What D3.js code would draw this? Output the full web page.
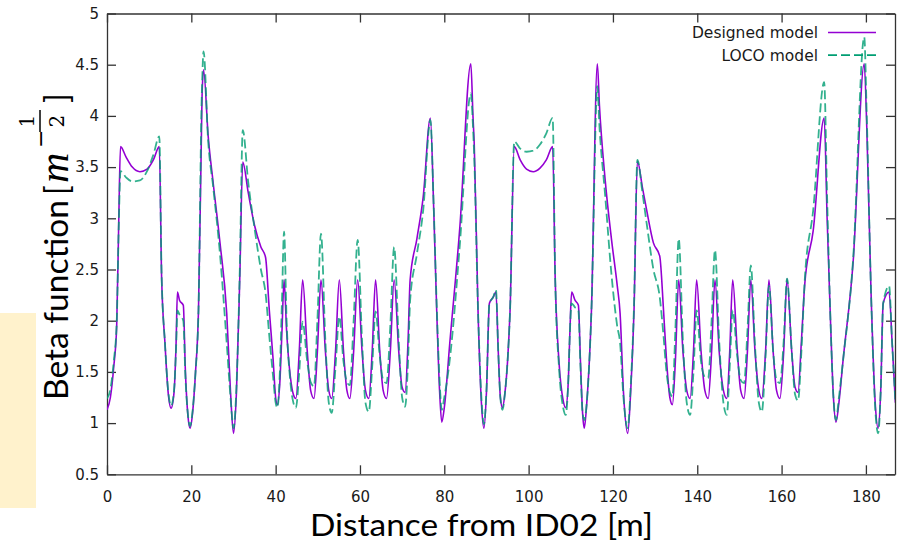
<!DOCTYPE html>
<html>
<head>
<meta charset="utf-8">
<script src="https://cdnjs.cloudflare.com/ajax/libs/d3/7.8.5/d3.min.js"></script>
<style>
body { margin: 0; background: #fff; }
</style>
</head>
<body>
<script>
// distance along the ring [m]
const position = [
  0, 0.8, 1.6, 2.3, 2.8, 3.2, 4.5, 6.0, 7.8, 9.5, 11.0, 12.4, 12.95, 13.75, 14.5, 15.2, 15.9, 16.4, 16.7, 17.2,
  18.1, 18.6, 19.2, 19.7, 20.3, 21.0, 21.7, 22.45, 22.55, 22.9, 24.0, 25.2, 26.8, 28.4, 29.3, 30.0, 30.7, 31.5, 32.2, 33.5,
  35.0, 36.5, 37.6, 38.5, 39.4, 40.0, 40.4, 41.0, 41.5, 42.0, 42.6, 43.5, 44.2, 44.8, 45.6, 46.4, 47.5, 48.3, 49.1, 49.9,
  50.75, 51.8, 52.6, 53.3, 54.2, 55.1, 56.1, 56.9, 57.6, 58.5, 59.45, 60.5, 61.3, 62.1, 62.9, 63.7, 64.7, 65.5, 66.3, 67.2,
  68.1, 69.2, 70.0, 70.7, 71.4, 71.9, 73.5, 75.0, 76.7, 77.5, 78.2, 78.9, 79.4, 80.0, 81.3, 83.7, 86.3, 86.8, 87.1, 88.0,
  88.8, 89.4, 90.0, 90.7, 91.6, 92.25, 92.8, 93.3, 93.8, 94.4, 95.0, 95.6, 96.6, 98.0, 99.5, 101.1, 102.7, 104.2, 105.7, 106.3,
  107.2, 108.2, 108.8, 109.4, 109.8, 110.2, 111.0, 111.8, 112.3, 112.8, 113.2, 113.8, 114.9, 116.3, 116.8, 118.1, 119.7, 121.0, 121.7, 122.5,
  123.5, 124.2, 125.0, 125.8, 127.0, 128.0, 129.6, 131.1, 132.0, 132.7, 133.5, 134.1, 134.8, 135.6, 136.6, 137.5, 138.3, 139.1, 139.85, 140.9,
  141.8, 142.6, 143.4, 144.2, 145.2, 146.2, 147.0, 147.7, 148.4, 149.5, 150.3, 151.1, 151.9, 152.7, 153.7, 154.6, 155.3, 156.2, 157.0, 158.0,
  158.8, 159.6, 160.5, 161.3, 162.4, 163.2, 163.9, 164.7, 165.5, 167.5, 170.1, 170.8, 171.6, 172.3, 172.9, 173.6, 174.6, 177.0, 179.6, 180.2,
  181.2, 182.2, 182.9, 183.5, 184.1, 185.5, 186.2, 187.0
]

const designed = [
  1.13, 1.25, 1.55, 1.95, 3.00, 3.70, 3.60, 3.50, 3.455, 3.48, 3.57, 3.70, 2.43, 1.78, 1.30, 1.145, 1.30, 1.80, 2.28, 2.20,
  2.15, 1.50, 1.07, 0.95, 1.10, 1.50, 2.10, 3.96, 4.20, 4.45, 3.80, 3.34, 2.76, 2.07, 1.30, 0.90, 1.30, 2.43, 3.55, 3.25,
  2.93, 2.72, 2.62, 2.10, 1.62, 1.25, 1.18, 1.40, 1.90, 2.40, 1.90, 1.45, 1.28, 1.24, 1.70, 2.40, 1.70, 1.32, 1.24, 1.70,
  2.40, 1.70, 1.32, 1.24, 1.70, 2.40, 1.70, 1.32, 1.24, 1.70, 2.40, 1.70, 1.32, 1.24, 1.70, 2.40, 1.70, 1.32, 1.24, 1.70,
  2.40, 1.70, 1.35, 1.30, 1.80, 2.40, 2.80, 3.21, 3.98, 3.08, 2.10, 1.30, 1.01, 1.15, 1.78, 2.92, 4.51, 4.00, 3.73, 2.10,
  1.20, 0.95, 1.30, 2.17, 2.23, 2.28, 1.70, 1.25, 1.15, 1.30, 1.60, 2.10, 3.70, 3.57, 3.48, 3.455, 3.49, 3.57, 3.70, 2.42,
  1.60, 1.22, 1.15, 1.40, 1.90, 2.28, 2.20, 2.15, 1.60, 1.10, 0.95, 1.20, 2.10, 4.51, 4.10, 3.40, 2.78, 2.35, 2.07, 1.30,
  0.90, 1.30, 2.10, 3.56, 3.30, 3.08, 2.76, 2.63, 2.10, 1.62, 1.25, 1.18, 1.60, 2.40, 1.70, 1.32, 1.24, 1.70, 2.40, 1.70,
  1.32, 1.24, 1.70, 2.40, 1.70, 1.32, 1.24, 1.70, 2.40, 1.70, 1.32, 1.24, 1.70, 2.40, 1.70, 1.32, 1.24, 1.70, 2.40, 1.70,
  1.32, 1.24, 1.70, 2.41, 1.70, 1.35, 1.30, 1.80, 2.36, 2.88, 3.98, 3.00, 2.00, 1.25, 1.01, 1.20, 1.62, 2.59, 4.51, 3.90,
  2.30, 1.20, 0.95, 1.30, 2.17, 2.28, 1.80, 1.20
]

const loco = [
  1.24, 1.33, 1.60, 1.98, 2.95, 3.46, 3.40, 3.36, 3.37, 3.46, 3.62, 3.80, 2.45, 1.78, 1.32, 1.17, 1.32, 1.75, 2.10, 2.06,
  2.00, 1.45, 1.08, 0.97, 1.12, 1.50, 2.10, 4.15, 4.30, 4.63, 3.75, 3.30, 2.65, 1.78, 1.25, 0.95, 1.35, 2.50, 3.86, 3.35,
  2.90, 2.50, 2.27, 1.85, 1.45, 1.20, 1.15, 1.50, 2.20, 2.87, 2.00, 1.40, 1.20, 1.15, 1.50, 1.99, 1.60, 1.40, 1.36, 2.00,
  2.85, 1.80, 1.20, 1.10, 1.55, 2.04, 1.60, 1.40, 1.37, 2.00, 2.79, 1.80, 1.20, 1.11, 1.55, 2.09, 1.65, 1.42, 1.39, 1.95,
  2.72, 1.80, 1.25, 1.16, 1.60, 2.20, 2.65, 3.08, 3.96, 3.10, 2.15, 1.40, 1.13, 1.25, 1.62, 2.75, 4.22, 3.90, 3.60, 2.10,
  1.25, 0.99, 1.32, 2.17, 2.23, 2.30, 1.70, 1.25, 1.13, 1.30, 1.60, 2.10, 3.75, 3.68, 3.65, 3.66, 3.72, 3.83, 3.98, 2.42,
  1.55, 1.15, 1.08, 1.40, 1.90, 2.17, 2.13, 2.10, 1.55, 1.10, 1.03, 1.20, 2.10, 4.29, 3.90, 3.25, 2.43, 1.95, 1.78, 1.25,
  0.95, 1.35, 2.15, 3.57, 3.25, 2.95, 2.50, 2.23, 1.85, 1.50, 1.30, 1.26, 1.90, 2.80, 1.80, 1.20, 1.08, 1.50, 2.10, 1.60,
  1.45, 1.44, 2.00, 2.69, 1.80, 1.20, 1.08, 1.55, 2.10, 1.65, 1.42, 1.39, 1.90, 2.54, 1.75, 1.20, 1.11, 1.65, 2.34, 1.70,
  1.42, 1.39, 1.80, 2.41, 1.70, 1.28, 1.22, 1.70, 2.40, 3.08, 4.33, 3.20, 2.00, 1.25, 1.03, 1.25, 1.62, 2.62, 4.77, 4.00,
  2.30, 1.15, 0.90, 1.30, 2.17, 2.34, 1.80, 1.20
]

const xTicks = [0, 20, 40, 60, 80, 100, 120, 140, 160, 180]
const yTicks = [0.5, 1, 1.5, 2, 2.5, 3, 3.5, 4, 4.5, 5]
const yTickLabels = ["0.5", "1", "1.5", "2", "2.5", "3", "3.5", "4", "4.5", "5"]
const seriesNames = ["Designed model", "LOCO model"]
const seriesColors = ["#9400d3", "#009e73"]

const w = 899
const h = 542
const plotLeft = 107, plotRight = 895, plotTop = 13.5, plotBottom = 474.3
const tickFont = "'DejaVu Sans', sans-serif"
const bigFont = "Lato, 'Open Sans', sans-serif"

const svg = d3.select("body")
  .append("svg")
  .attr("width", w)
  .attr("height", h)
  .style("display", "block")
  .style("background-color", "#ffffff")

// yellow box on the left (slide decoration)
svg.append("rect")
  .attr("x", 0).attr("y", 313)
  .attr("width", 36).attr("height", 195)
  .attr("fill", "#fff2cc")

const xScale = d3.scaleLinear()
  .domain([0, 186.9])
  .range([plotLeft, plotRight])

const yScale = d3.scaleLinear()
  .domain([0.5, 5])
  .range([plotBottom, plotTop])

//axes
function styleAxis(g) {
  g.selectAll(".domain").attr("stroke", "#333").attr("stroke-width", 1.3)
  g.selectAll(".tick line").attr("stroke", "#333").attr("stroke-width", 1.3)
  g.selectAll(".tick text")
    .attr("fill", "#1a1a1a")
    .style("font-family", tickFont)
    .style("font-size", "15px")
}

svg.append("g")
  .attr("transform", "translate(0," + plotBottom + ")")
  .call(d3.axisBottom(xScale).tickValues(xTicks).tickSizeInner(-9).tickSizeOuter(0).tickPadding(17))
  .call(styleAxis)

svg.append("g")
  .attr("transform", "translate(0," + plotTop + ")")
  .call(d3.axisTop(xScale).tickValues(xTicks).tickSizeInner(-9).tickSizeOuter(0).tickFormat(""))
  .call(styleAxis)

svg.append("g")
  .attr("transform", "translate(" + plotLeft + ",0)")
  .call(d3.axisLeft(yScale).tickValues(yTicks).tickSizeInner(-9).tickSizeOuter(0).tickPadding(8)
    .tickFormat((d, i) => yTickLabels[i]))
  .call(styleAxis)

svg.append("g")
  .attr("transform", "translate(" + plotRight + ",0)")
  .call(d3.axisRight(yScale).tickValues(yTicks).tickSizeInner(-9).tickSizeOuter(0).tickFormat(""))
  .call(styleAxis)

//curves
svg.append("clipPath")
  .attr("id", "plot-clip")
  .append("rect")
  .attr("x", plotLeft).attr("y", plotTop)
  .attr("width", plotRight - plotLeft).attr("height", plotBottom - plotTop)

const line = d3.line()
  .x(d => xScale(d[0]))
  .y(d => yScale(d[1]))
  .curve(d3.curveMonotoneX)

const curves = [
  position.map((s, i) => [s, designed[i]]),
  position.map((s, i) => [s, loco[i]])
]

svg.append("path")
  .datum(curves[0])
  .attr("clip-path", "url(#plot-clip)")
  .attr("fill", "none")
  .attr("stroke", seriesColors[0])
  .attr("stroke-width", 1.6)
  .attr("stroke-linejoin", "round")
  .attr("d", line)

svg.append("path")
  .datum(curves[1])
  .attr("clip-path", "url(#plot-clip)")
  .attr("fill", "none")
  .attr("stroke", seriesColors[1])
  .attr("stroke-width", 1.8)
  .attr("stroke-opacity", 0.8)
  .attr("stroke-dasharray", "9,4")
  .attr("stroke-linejoin", "round")
  .attr("d", line)

//legend
const legend = svg.append("g")
seriesNames.forEach((name, i) => {
  const ly = 32.5 + i * 22.7
  legend.append("text")
    .attr("x", 818)
    .attr("y", ly + 5.5)
    .attr("text-anchor", "end")
    .attr("fill", "#1a1a1a")
    .style("font-family", tickFont)
    .style("font-size", "15.5px")
    .text(name)
  legend.append("line")
    .attr("x1", 828).attr("x2", 876)
    .attr("y1", ly).attr("y2", ly)
    .attr("stroke", seriesColors[i])
    .attr("stroke-width", i == 0 ? 1.6 : 1.8)
    .attr("stroke-dasharray", i == 0 ? null : "9,4")
})

//axis titles
svg.append("text")
  .attr("x", 310)
  .attr("y", 535.5)
  .attr("textLength", 343)
  .attr("lengthAdjust", "spacingAndGlyphs")
  .attr("fill", "#000")
  .style("font-family", bigFont)
  .style("font-size", "30px")
  .text("Distance from ID02 [m]")

const yl = svg.append("g")
  .attr("transform", "translate(68,400) rotate(-90)")

yl.append("text")
  .attr("x", 0).attr("y", 0)
  .attr("textLength", 200)
  .attr("lengthAdjust", "spacingAndGlyphs")
  .style("font-family", bigFont)
  .style("font-size", "32px")
  .text("Beta function")

yl.append("text")
  .attr("x", 205).attr("y", 0)
  .style("font-family", bigFont)
  .style("font-size", "32px")
  .text("[")

yl.append("text")
  .attr("x", 217).attr("y", 0)
  .style("font-family", "'Liberation Serif', serif")
  .style("font-style", "italic")
  .style("font-size", "42px")
  .text("m")

yl.append("text")
  .attr("x", 252).attr("y", -20)
  .style("font-family", "'DejaVu Sans', sans-serif")
  .style("font-size", "22px")
  .text("−")

yl.append("line")
  .attr("x1", 268).attr("x2", 290)
  .attr("y1", -28).attr("y2", -28)
  .attr("stroke", "#000").attr("stroke-width", 1.5)

yl.append("text")
  .attr("x", 279).attr("y", -34)
  .attr("text-anchor", "middle")
  .style("font-family", "'DejaVu Serif', serif")
  .style("font-size", "20px")
  .text("1")

yl.append("text")
  .attr("x", 279).attr("y", -4)
  .attr("text-anchor", "middle")
  .style("font-family", "'DejaVu Serif', serif")
  .style("font-size", "20px")
  .text("2")

yl.append("text")
  .attr("x", 297).attr("y", 0)
  .style("font-family", bigFont)
  .style("font-size", "32px")
  .text("]")
</script>
</body>
</html>
